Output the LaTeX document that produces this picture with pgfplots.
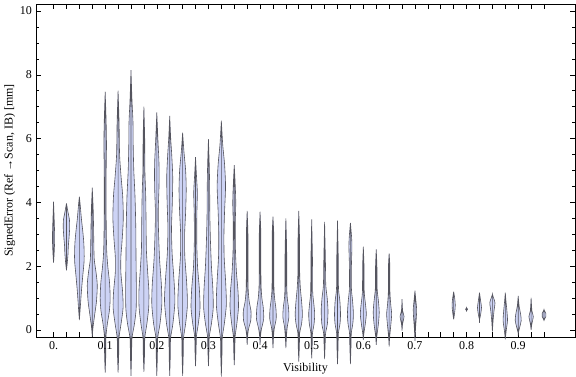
\documentclass[border=0pt]{standalone}
\usepackage{fontspec}
\setmainfont{Liberation Serif}
\usepackage{pgfplots}
\pgfplotsset{compat=1.18}
\usepgfplotslibrary{fillbetween}
\definecolor{vfill}{RGB}{205,211,245}
\definecolor{vedge}{RGB}{85,85,95}
% #1 id, #2 centre, #3 rows "y w" (w = half width in px)
\newcommand{\violin}[3]{%
  \addplot[draw=none, smooth, tension=0.45, name path=R#1] table[x expr={#2+\thisrow{w}/516}, y=y, row sep=crcr] {y w\\ #3};
  \addplot[draw=none, smooth, tension=0.45, name path=L#1] table[x expr={#2-\thisrow{w}/516}, y=y, row sep=crcr] {y w\\ #3};
  \addplot[fill=vfill, draw=vedge, line width=0.6pt] fill between[of=R#1 and L#1];
}
\begin{document}
\fontsize{12}{14}\selectfont
\begin{tikzpicture}
\begin{axis}[
  scale only axis, width=539pt, height=333pt,
  xmin=-0.034, xmax=1.01, ymin=-0.22, ymax=10.22,
  clip=false,
  axis line style={black, line width=0.7pt},
  every tick/.style={black, line width=0.6pt},
  tick align=inside, major tick length=5pt, minor tick length=3pt,
  xtick={0,0.025,0.05,0.075,0.1,0.125,0.15,0.175,0.2,0.225,0.25,0.275,0.3,0.325,0.35,0.375,0.4,0.425,0.45,0.475,0.5,0.525,0.55,0.575,0.6,0.625,0.65,0.675,0.7,0.725,0.75,0.775,0.8,0.825,0.85,0.875,0.9,0.925,0.95},
  xticklabels={0.,,,,0.1,,,,0.2,,,,0.3,,,,0.4,,,,0.5,,,,0.6,,,,0.7,,,,0.8,,,,0.9,,},
  ytick={0,2,4,6,8,10}, minor y tick num=3,
  /pgf/number format/assume math mode=true,
  ticklabel style={font=\fontsize{12}{14}\selectfont, text=black},
  xlabel={Visibility},
  ylabel={SignedError (Ref~→Scan, IB) [mm]},
  xlabel style={at={(axis description cs:0.5,-0.105)}, anchor=base, font=\fontsize{12}{14}\selectfont},
  ylabel style={at={(axis description cs:-0.0432,0.5)}, anchor=base, font=\fontsize{12}{14}\selectfont},
]
\coordinate (bl) at (rel axis cs:0,0);
\coordinate (tr) at (rel axis cs:1,1);
\violin{0}{0}{2.11 0\\ 2.4 0.6\\ 2.8 1.1\\ 3.1 1.0\\ 3.5 0.6\\ 4.02 0\\}
\violin{1}{0.025}{1.87 0\\ 2.1 0.8\\ 2.4 1.6\\ 2.6 1.8\\ 2.9 2.6\\ 3.2 3.2\\ 3.45 3.0\\ 3.7 1.5\\ 3.97 0\\}
\violin{2}{0.05}{0.31 0\\ 0.7 0.9\\ 1.2 2.0\\ 1.7 3.4\\ 2.2 4.8\\ 2.7 4.5\\ 3.1 3.4\\ 3.5 2.0\\ 3.9 0.9\\ 4.18 0\\}
\violin{3}{0.075}{-0.21 0\\ 0.1 0.8\\ 0.5 2.5\\ 0.9 4.2\\ 1.4 5.0\\ 1.8 3.8\\ 2.2 2.0\\ 2.6 1.6\\ 3.2 1.3\\ 3.8 0.9\\ 4.46 0\\}
\violin{4}{0.1}{-1.34 0\\ -0.8 0.6\\ -0.2 0.8\\ 0.2 2.2\\ 0.6 4.2\\ 1.0 5.0\\ 1.5 4.3\\ 2.0 2.6\\ 2.5 1.5\\ 3.5 1.0\\ 5.0 1.0\\ 5.8 1.3\\ 6.6 0.9\\ 7.47 0\\}
\violin{5}{0.125}{-1.34 0\\ -0.8 0.6\\ -0.25 0.9\\ 0.2 3.0\\ 0.7 5.0\\ 1.2 4.5\\ 1.8 2.8\\ 2.3 2.8\\ 2.8 4.0\\ 3.5 5.2\\ 4.2 4.6\\ 4.8 3.0\\ 5.5 1.5\\ 6.5 1.0\\ 7.5 0\\}
\violin{6}{0.15}{-1.44 0\\ -0.8 0.6\\ -0.25 1.0\\ 0.2 3.5\\ 0.7 5.2\\ 1.5 5.3\\ 2.3 5.0\\ 3.2 4.8\\ 4.2 4.0\\ 5.0 2.8\\ 5.8 2.2\\ 6.5 2.0\\ 7.2 1.0\\ 8.15 0\\}
\violin{7}{0.175}{-1.31 0\\ -0.8 0.6\\ -0.25 0.9\\ 0.2 3.0\\ 0.7 4.8\\ 1.2 5.0\\ 1.8 3.8\\ 2.5 2.5\\ 3.3 2.2\\ 4.2 1.8\\ 5.0 1.0\\ 6.0 0.8\\ 7.0 0\\}
\violin{8}{0.2}{-1.44 0\\ -0.8 0.6\\ -0.25 0.9\\ 0.2 3.2\\ 0.8 5.0\\ 1.4 4.6\\ 2.2 2.8\\ 3.0 1.8\\ 3.7 1.4\\ 4.5 2.2\\ 5.2 2.2\\ 5.9 1.2\\ 6.82 0\\}
\violin{9}{0.225}{-1.44 0\\ -0.8 0.6\\ -0.25 0.9\\ 0.2 3.2\\ 0.9 5.2\\ 1.6 4.2\\ 2.4 2.4\\ 3.2 1.8\\ 4.0 2.6\\ 4.8 3.0\\ 5.5 2.0\\ 6.0 1.0\\ 6.71 0\\}
\violin{10}{0.25}{-1.44 0\\ -0.8 0.6\\ -0.25 0.9\\ 0.2 3.0\\ 0.8 4.8\\ 1.5 4.0\\ 2.3 2.2\\ 3.0 2.0\\ 3.7 3.0\\ 4.4 3.6\\ 5.0 3.0\\ 5.6 1.3\\ 6.19 0\\}
\violin{11}{0.275}{-1.13 0\\ -0.6 0.6\\ -0.2 0.9\\ 0.2 2.8\\ 0.7 4.5\\ 1.3 3.8\\ 2.0 2.0\\ 2.8 1.2\\ 3.6 1.3\\ 4.3 1.8\\ 4.8 1.0\\ 5.42 0\\}
\violin{12}{0.3}{-1.13 0\\ -0.6 0.6\\ -0.2 0.9\\ 0.2 3.0\\ 0.7 4.8\\ 1.3 4.4\\ 2.0 3.0\\ 2.8 2.0\\ 3.6 1.4\\ 4.5 1.2\\ 5.2 0.8\\ 5.98 0\\}
\violin{13}{0.325}{-1.46 0\\ -0.8 0.6\\ -0.25 0.9\\ 0.2 3.0\\ 0.8 5.0\\ 1.5 4.3\\ 2.3 2.8\\ 3.0 2.6\\ 3.7 3.2\\ 4.5 4.2\\ 5.2 3.2\\ 5.8 1.4\\ 6.56 0\\}
\violin{14}{0.35}{-1.1 0\\ -0.6 0.6\\ -0.2 0.9\\ 0.2 2.6\\ 0.7 4.2\\ 1.2 3.8\\ 1.8 2.2\\ 2.5 1.2\\ 3.3 1.0\\ 4.0 1.5\\ 4.6 0.9\\ 5.17 0\\}
\violin{15}{0.375}{-0.47 0\\ -0.15 0.6\\ 0.05 1.5\\ 0.3 3.6\\ 0.6 3.8\\ 0.9 2.0\\ 1.3 1.0\\ 2.0 0.8\\ 3.0 0.8\\ 3.73 0\\}
\violin{16}{0.4}{-0.47 0\\ -0.15 0.6\\ 0.05 1.5\\ 0.35 3.6\\ 0.7 3.2\\ 1.0 1.8\\ 1.4 1.0\\ 2.2 0.8\\ 3.0 0.8\\ 3.71 0\\}
\violin{17}{0.425}{-0.57 0\\ -0.2 0.6\\ 0.05 1.3\\ 0.35 3.2\\ 0.65 3.0\\ 0.95 1.8\\ 1.3 1.0\\ 2.2 0.8\\ 3.0 0.8\\ 3.55 0\\}
\violin{18}{0.45}{-0.57 0\\ -0.2 0.6\\ 0.1 1.4\\ 0.4 3.0\\ 0.7 2.6\\ 1.0 1.4\\ 1.4 0.9\\ 2.5 0.8\\ 3.5 0\\}
\violin{19}{0.475}{-0.99 0\\ -0.5 0.6\\ -0.1 0.9\\ 0.2 2.8\\ 0.5 3.6\\ 0.9 2.8\\ 1.3 1.6\\ 1.8 0.9\\ 2.8 0.8\\ 3.73 0\\}
\violin{20}{0.5}{-0.89 0\\ -0.4 0.6\\ -0.1 0.8\\ 0.2 2.4\\ 0.5 3.0\\ 0.8 2.2\\ 1.2 1.0\\ 2.2 0.8\\ 3.47 0\\}
\violin{21}{0.525}{-0.91 0\\ -0.4 0.6\\ -0.1 1.0\\ 0.2 2.8\\ 0.6 3.4\\ 1.0 2.6\\ 1.4 1.2\\ 2.2 0.8\\ 3.39 0\\}
\violin{22}{0.55}{-1.07 0\\ -0.5 0.6\\ -0.1 0.9\\ 0.2 2.5\\ 0.5 3.0\\ 0.9 2.4\\ 1.3 1.0\\ 2.2 0.8\\ 3.43 0\\}
\violin{23}{0.575}{-1.07 0\\ -0.5 0.6\\ -0.1 0.9\\ 0.2 2.4\\ 0.5 3.0\\ 0.9 2.2\\ 1.3 1.0\\ 2.0 1.0\\ 2.6 1.5\\ 2.9 1.2\\ 3.36 0\\}
\violin{24}{0.6}{-0.31 0\\ -0.1 0.6\\ 0.2 2.0\\ 0.5 3.0\\ 0.8 2.2\\ 1.2 0.9\\ 2.0 0.7\\ 2.61 0\\}
\violin{25}{0.625}{-0.47 0\\ -0.2 0.6\\ 0.2 2.2\\ 0.55 3.0\\ 0.9 2.2\\ 1.3 0.9\\ 2.0 0.7\\ 2.53 0\\}
\violin{26}{0.65}{-0.52 0\\ -0.2 0.6\\ 0.2 1.8\\ 0.5 2.5\\ 0.8 1.6\\ 1.2 0.8\\ 2.0 0.7\\ 2.4 0\\}
\violin{27}{0.675}{-0.02 0\\ 0.2 0.6\\ 0.42 2.0\\ 0.6 0.6\\ 0.97 0\\}
\violin{28}{0.7}{-0.34 0\\ 0.1 0.7\\ 0.4 1.4\\ 0.65 1.7\\ 0.9 1.0\\ 1.23 0\\}
\violin{29}{0.775}{0.33 0\\ 0.55 1.0\\ 0.78 1.6\\ 1.0 1.0\\ 1.2 0\\}
\violin{30}{0.8}{0.6 0\\ 0.65 1.0\\ 0.7 0\\}
\violin{31}{0.825}{0.31 0\\ 0.5 1.2\\ 0.7 2.0\\ 0.9 1.2\\ 1.17 0\\}
\violin{32}{0.85}{-0.05 0\\ 0.3 0.7\\ 0.6 1.6\\ 0.85 2.6\\ 1.0 1.2\\ 1.12 0\\}
\violin{33}{0.875}{-0.29 0\\ 0.0 1.0\\ 0.3 2.2\\ 0.6 1.6\\ 0.9 0.7\\ 1.17 0\\}
\violin{34}{0.9}{-0.1 0\\ 0.1 1.6\\ 0.3 3.0\\ 0.5 2.4\\ 0.75 0.9\\ 1.07 0\\}
\violin{35}{0.925}{0.0 0\\ 0.2 0.8\\ 0.42 2.2\\ 0.6 0.8\\ 1.01 0\\}
\violin{36}{0.95}{0.31 0\\ 0.42 1.8\\ 0.52 1.8\\ 0.63 0\\}
\end{axis}
\pgfresetboundingbox
\path ([shift={(-36pt,-40pt)}]bl) rectangle ([shift={(1pt,4pt)}]tr);
\end{tikzpicture}
\end{document}
